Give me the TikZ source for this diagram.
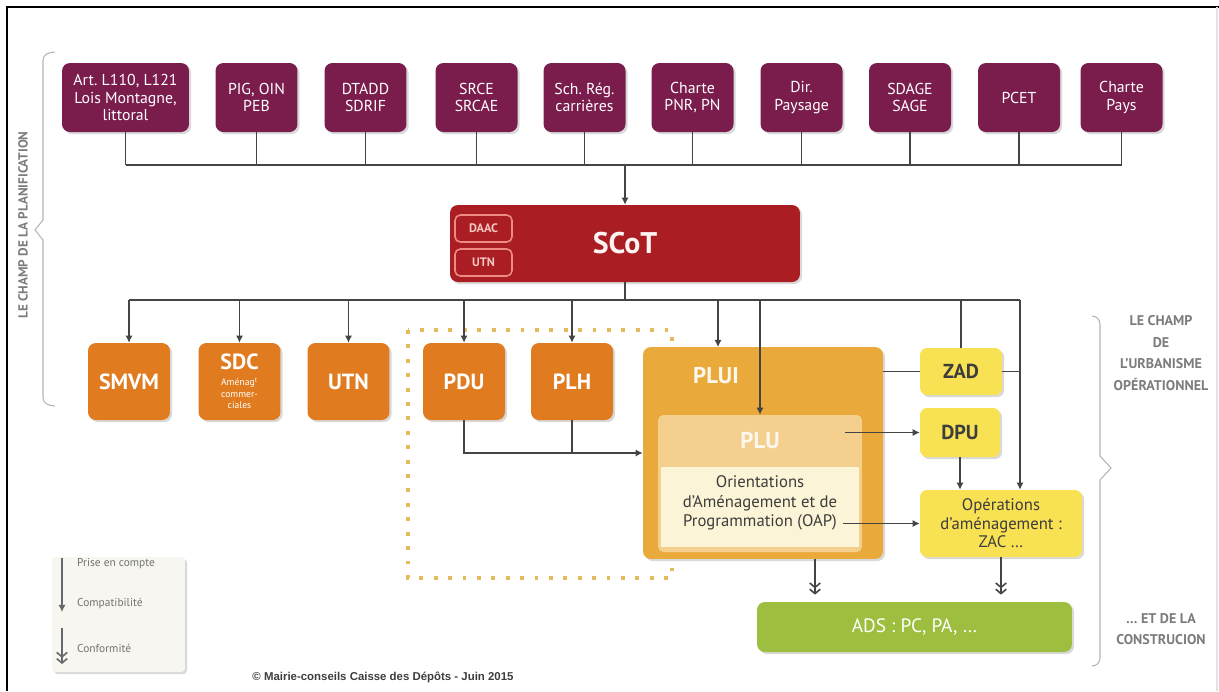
\documentclass[tikz,border=0pt]{standalone}
\usepackage{fontspec}
\setmainfont{PT Sans}
\newfontfamily\copyfont{Liberation Sans}
\usetikzlibrary{arrows.meta,positioning,calc,shadows}
\definecolor{plum}{HTML}{7B1D4C}
\definecolor{scotred}{HTML}{A91D23}
\definecolor{scotline}{HTML}{EC8C80}
\definecolor{orng}{HTML}{E07B1F}
\definecolor{gold}{HTML}{E9AA3B}
\definecolor{pluhead}{HTML}{F5CF8E}
\definecolor{plubody}{HTML}{FCF4D6}
\definecolor{lemon}{HTML}{F8E254}
\definecolor{leaf}{HTML}{9DBE3E}
\definecolor{dots}{HTML}{E5BC5C}
\definecolor{ink}{HTML}{444444}
\definecolor{paper}{HTML}{F7F6F0}
\colorlet{brace}{ink!40}
\newcommand\tinysdc{\fontsize{5.5}{6}\selectfont\mdseries}

\begin{document}
\begin{tikzpicture}[x=0.02cm,y=-0.02cm,
    box/.style={rounded corners=4.5pt,inner sep=0pt,align=center,
      drop shadow={shadow xshift=1.2pt,shadow yshift=-1.2pt,opacity=.3}},
    topbox/.style={box,fill=plum,text=white,minimum width=1.64cm,
      minimum height=1.38cm,font=\fontsize{9}{10}\selectfont},
    orbox/.style={box,fill=orng,text=white,minimum width=1.64cm,
      minimum height=1.54cm,font=\fontsize{12.5}{13}\selectfont\bfseries},
    lembox/.style={box,fill=lemon,text=ink!90!black,rounded corners=4pt},
    tag/.style={draw=scotline,line width=0.9pt,rounded corners=3pt,inner sep=0pt,
      minimum width=1.14cm,minimum height=0.54cm,text=scotline!50!white,
      font=\fontsize{7}{8}\selectfont\bfseries},
    wire/.style={draw=ink,line width=0.6pt},
    compat/.style={wire,-{Latex[length=4pt,width=4pt]}},
    conform/.style={wire,line width=0.9pt,
      -{Straight Barb[length=2.5pt,width=6pt]Straight Barb[length=2.5pt,width=6pt]}},
    side/.style={text=ink!70,align=center,font=\fontsize{8}{12.4}\selectfont\bfseries}]
  \useasboundingbox (0,0) rectangle (1219,691);
  \draw[line width=1.2pt] (7,691) -- (7,7) -- (1219,7);
  \draw[ink!15,line width=0.6pt] (1217,7) -- (1217,691);

  % top row
  \node[topbox,minimum width=2.54cm] (t1) at (125.5,97.5)
    {Art.\ L110, L121\\Lois Montagne,\\littoral};
  \foreach \n/\xc/\txt in {2/256.5/{PIG, OIN\\PEB},3/365.5/{DTADD\\SDRIF},
      4/476.5/{SRCE\\SRCAE},5/584.5/{Sch.\ Rég.\\carrières},
      6/692.5/{Charte\\PNR, PN},7/801.5/{Dir.\\Paysage},8/910/{SDAGE\\SAGE},
      9/1019/{PCET},10/1121.5/{Charte\\Pays}}
    \node[topbox] (t\n) at (\xc,97.5) {\txt};
  \coordinate (bus1) at (0,165);
  \foreach \n in {1,...,10}
    \draw[wire] (t\n.south) -- (t\n.south |- bus1);
  \draw[wire] (t1.south |- bus1) -- (t10.south |- bus1);

  % SCoT
  \node[box,fill=scotred,text=white!90!scotline,minimum width=7cm,minimum height=1.54cm,
    font=\fontsize{17}{18}\selectfont\bfseries] (scot) at (625,243.5) {SCoT};
  \node[tag] (daac) at (483.5,228.5) {DAAC};
  \node[tag] (scotutn) at (483.5,262.5) {UTN};
  \draw[compat] (scot.north |- bus1) -- (scot.north);

  % dotted frame
  \draw[dots,line width=2.2pt,dash pattern=on 2.2pt off 6pt] (408,330) rectangle (672,578);

  % second row
  \node[orbox] (smvm) at (129,381.5) {SMVM};
  \node[orbox] (sdc) at (239.5,381.5)
    {SDC\\[-4pt]\tinysdc Aménag\textsuperscript{t}\\[-6.5pt]\tinysdc commer-\\[-6.5pt]\tinysdc ciales};
  \node[orbox] (utn) at (348.5,381.5) {UTN};
  \node[orbox] (pdu) at (464,381.5) {PDU};
  \node[orbox] (plh) at (572,381.5) {PLH};

  % PLUI block
  \node[box,fill=gold,minimum width=4.8cm,minimum height=4.24cm] (plui) at (763,453) {};
  \node[text=white!92!gold,font=\fontsize{13}{14}\selectfont\bfseries] (pluilbl) at (716,376) {PLUI};
  \node[fill=pluhead,rounded corners=3pt,minimum width=4.08cm,minimum height=2.74cm] (plu) at (760,483.5) {};
  \node[fill=plubody,inner sep=0pt,minimum width=3.96cm,minimum height=1.6cm] (oapbox) at (760,507) {};
  \node[text=white!85!pluhead,font=\fontsize{13}{14}\selectfont\bfseries] (plulbl) at (760,441) {PLU};
  \node[align=center,text=ink!90!black,font=\fontsize{9.5}{11.3}\selectfont] (oap) at (760,503)
    {Orientations\\d'Aménagement et de\\Programmation (OAP)};

  % operational field
  \node[lembox,minimum width=1.64cm,minimum height=0.94cm,font=\fontsize{11.5}{12}\selectfont\bfseries]
    (zad) at (961,371.5) {ZAD};
  \node[lembox,minimum width=1.6cm,minimum height=0.98cm,font=\fontsize{11.5}{12}\selectfont\bfseries]
    (dpu) at (960,432.5) {DPU};
  \node[lembox,minimum width=3.24cm,minimum height=1.34cm,align=center,
    font=\fontsize{9.5}{10.5}\selectfont] (ope) at (1001,523.5)
    {Opérations\\d'aménagement :\\ZAC \dots};
  \node[box,fill=leaf,text=white,minimum width=6.3cm,minimum height=1cm,
    font=\fontsize{11}{12}\selectfont] (ads) at (914.5,627) {ADS : PC, PA, \dots};

  % from SCoT down
  \coordinate (bus2) at (0,300);
  \coordinate (zcol) at (1020,300);
  \coordinate (pluiin) at (718,347);
  \draw[wire] (scot.south) -- (scot.south |- bus2);
  \draw[wire] (smvm.north |- bus2) -- (zcol);
  \foreach \b in {smvm,sdc,utn,pdu,plh}
    \draw[compat] (\b.north |- bus2) -- (\b.north);
  \draw[compat] (pluiin |- bus2) -- (pluiin);
  \draw[compat] (plu.north |- bus2) -- (plu.north);
  \draw[wire] (zad.north |- bus2) -- (zad.north);
  \draw[compat] (zcol) -- (zcol |- ope.north);
  \draw[wire] (plui.east |- zad.west) -- (zad.west);
  \draw[wire] (zad.east) -- (zad.east -| zcol);
  \draw[compat] (dpu.south) -- (dpu.south |- ope.north);

  % into PLUI and out
  \draw[compat] (pdu.south) |- (plui.west);
  \draw[wire] (plh.south) -- (plh.south |- plui.west);
  \coordinate (pluout) at (845,432.5);
  \coordinate (oapout) at (843,523.5);
  \draw[compat] (pluout) -- (dpu.west);
  \draw[compat] (oapout) -- (ope.west);
  \coordinate (pluidown) at (815,559);
  \draw[conform,shorten >=4pt] (pluidown) -- (pluidown |- ads.north);
  \draw[conform,shorten >=4pt] (ope.south) -- (ope.south |- ads.north);

  % braces and side labels
  \draw[brace,line width=0.6pt] (55,52) to[out=180,in=90] (43,60) -- (43,220)
    -- (35,230) -- (43,240) -- (43,398) to[out=-90,in=180] (55,406);
  \node[side,rotate=90,font=\fontsize{7.5}{8}\selectfont\bfseries] (plan) at (23,225)
    {LE CHAMP DE LA PLANIFICATION};
  \draw[brace,line width=0.6pt] (1092,316) to[out=0,in=90] (1100,324) -- (1100,456)
    -- (1111,468) -- (1100,480) -- (1100,658) to[out=-90,in=0] (1092,666);
  \node[side] (urba) at (1161,353) {LE CHAMP\\DE\\L'URBANISME\\OPÉRATIONNEL};
  \node[side] (constr) at (1161,629) {\dots\ ET DE LA\\CONSTRUCION};

  % legend
  \node[box,fill=paper,rounded corners=2pt,minimum width=2.66cm,minimum height=2.3cm]
    (legend) at (118.5,614.5) {};
  \coordinate (lg1) at (62,558);
  \coordinate (lg2) at (62,594);
  \coordinate (lg3) at (62,612);
  \coordinate (lg4) at (62,628);
  \coordinate (lg5) at (62,664);
  \draw[wire,draw=ink!80] (lg1) -- (lg2);
  \draw[compat,draw=ink!80] (lg2) -- (lg3);
  \draw[conform,draw=ink!80] (lg4) -- (lg5);
  \node[anchor=west,text=ink!75,font=\fontsize{6.5}{7}\selectfont] (lgprise) at (71,564) {Prise en compte};
  \node[anchor=west,text=ink!75,font=\fontsize{6.5}{7}\selectfont] (lgcompat) at (71,604) {Compatibilité};
  \node[anchor=west,text=ink!75,font=\fontsize{6.5}{7}\selectfont] (lgconf) at (71,648) {Conformité};

  \node[text=ink!90!black,font=\copyfont\fontsize{6.5}{7}\selectfont\bfseries] (copy) at (383,677)
    {© Mairie-conseils Caisse des Dépôts - Juin 2015};
\end{tikzpicture}
\end{document}
